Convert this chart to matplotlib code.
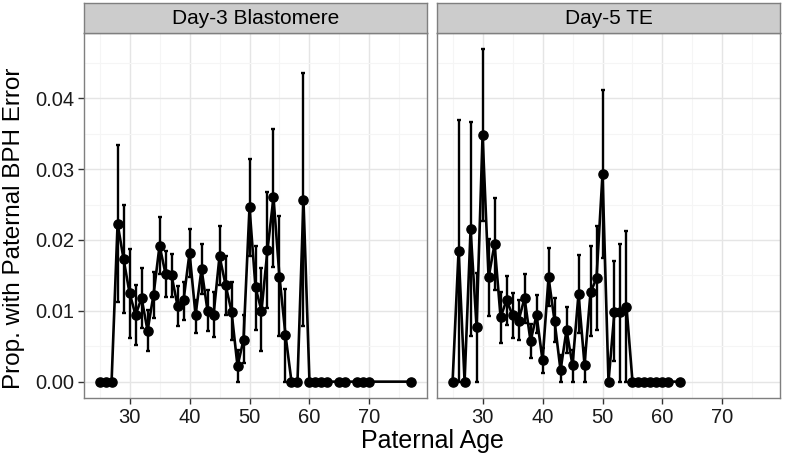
import matplotlib
matplotlib.use("Agg")
import matplotlib.pyplot as plt
import numpy as np

plt.rcParams['font.family'] = ['Liberation Sans', 'DejaVu Sans']

# Day-3 blastomere
age3 = [25, 26, 27, 28, 29, 30, 31, 32, 33, 34, 35, 36, 37, 38, 39, 40, 41, 42, 43, 44,
        45, 46, 47, 48, 49, 50, 51, 52, 53, 54, 55, 56, 57, 58, 59, 60, 61, 62, 63,
        65, 66, 68, 69, 70, 77]
prop3 = [0, 0, 0, 0.0223, 0.0173, 0.0125, 0.0094, 0.0118, 0.0072, 0.0123, 0.0192, 0.0152,
         0.0150, 0.0107, 0.0115, 0.0182, 0.0094, 0.0159, 0.0100, 0.0094, 0.0177, 0.0137,
         0.0099, 0.0022, 0.0059, 0.0246, 0.0133, 0.0100, 0.0186, 0.0260, 0.0148, 0.0066,
         0, 0, 0.0256, 0, 0, 0, 0, 0, 0, 0, 0, 0, 0]
lo3 = [0, 0, 0, 0.0113, 0.0097, 0.0062, 0.0052, 0.0076, 0.0043, 0.0090, 0.0152, 0.0120,
       0.0120, 0.0079, 0.0087, 0.0148, 0.0069, 0.0124, 0.0071, 0.0063, 0.0137, 0.0094,
       0.0059, 0.0, 0.0026, 0.0177, 0.0073, 0.0043, 0.0104, 0.0162, 0.0064, 0.0,
       0, 0, 0.0078, 0, 0, 0, 0, 0, 0, 0, 0, 0, 0]
hi3 = [0, 0, 0, 0.0334, 0.0250, 0.0187, 0.0137, 0.0160, 0.0101, 0.0155, 0.0233, 0.0184,
       0.0180, 0.0135, 0.0141, 0.0216, 0.0115, 0.0194, 0.0130, 0.0126, 0.0219, 0.0177,
       0.0140, 0.0045, 0.0094, 0.0314, 0.0192, 0.0160, 0.0268, 0.0357, 0.0234, 0.0131,
       0, 0, 0.0436, 0, 0, 0, 0, 0, 0, 0, 0, 0, 0]

# Day-5 trophectoderm
age5 = [25, 26, 27, 28, 29, 30, 31, 32, 33, 34, 35, 36, 37, 38, 39, 40, 41, 42, 43, 44,
        45, 46, 47, 48, 49, 50, 51, 52, 53, 54, 55, 56, 57, 58, 59, 60, 61, 63]
prop5 = [0, 0.0185, 0, 0.0215, 0.0077, 0.0348, 0.0147, 0.0194, 0.0091, 0.0115, 0.0094,
         0.0086, 0.0118, 0.0057, 0.0094, 0.0030, 0.0147, 0.0086, 0.0016, 0.0073, 0.0023,
         0.0124, 0.0024, 0.0126, 0.0146, 0.0293, 0, 0.0099, 0.0098, 0.0106,
         0, 0, 0, 0, 0, 0, 0, 0]
lo5 = [0, 0, 0, 0.0065, 0, 0.0227, 0.0092, 0.0130, 0.0054, 0.0080, 0.0062, 0.0059,
       0.0083, 0.0033, 0.0068, 0.0012, 0.0107, 0.0056, 0, 0.0040, 0, 0.0069, 0, 0.0064,
       0.0073, 0.0174, 0, 0.0029, 0, 0, 0, 0, 0, 0, 0, 0, 0, 0]
hi5 = [0, 0.0369, 0, 0.0366, 0.0153, 0.0469, 0.0202, 0.0259, 0.0127, 0.0149, 0.0125,
       0.0115, 0.0152, 0.0082, 0.0122, 0.0047, 0.0188, 0.0118, 0.0038, 0.0106, 0.0045,
       0.0179, 0.0047, 0.0191, 0.0220, 0.0411, 0, 0.0170, 0.0194, 0.0213,
       0, 0, 0, 0, 0, 0, 0, 0]

panels = [("Day-3 Blastomere", age3, prop3, lo3, hi3),
          ("Day-5 TE", age5, prop5, lo5, hi5)]

W, H = 785, 463
fig = plt.figure(figsize=(W / 100, H / 100), dpi=100)

lefts = [84, 437]
pw = 343
top_px, bot_px = 32.7, 398.3
strip_top = 3.3

for i, (title, a, p, lo, hi) in enumerate(panels):
    ax = fig.add_axes([lefts[i] / W, 1 - bot_px / H, pw / W, (bot_px - top_px) / H])
    a = np.array(a); p = np.array(p)
    yerr = [p - np.array(lo), np.array(hi) - p]
    ax.errorbar(a, p, yerr=yerr, fmt='none', ecolor='black', elinewidth=1.7,
                capsize=1.2, capthick=1.7, zorder=3)
    ax.plot(a, p, color='black', lw=1.9, zorder=4)
    ax.plot(a, p, 'o', color='black', ms=6.6, zorder=5)

    ax.set_xlim(22.4, 79.6)
    ax.set_ylim(-0.00235, 0.04925)
    ax.set_xticks([30, 40, 50, 60, 70])
    ax.set_xticks([25, 35, 45, 55, 65, 75], minor=True)
    ax.set_yticks([0, 0.01, 0.02, 0.03, 0.04])
    ax.set_yticks([0.005, 0.015, 0.025, 0.035, 0.045], minor=True)
    ax.grid(which='major', color='#E5E5E5', lw=1.0)
    ax.grid(which='minor', color='#F5F5F5', lw=0.8)
    ax.set_axisbelow(True)
    for s in ax.spines.values():
        s.set_color('#7F7F7F')
        s.set_linewidth(1.0)
    ax.tick_params(which='minor', length=0)
    ax.tick_params(which='major', length=4, width=1.0, color='#333333',
                   labelsize=14.5, labelcolor='#1a1a1a', pad=3)
    if i == 0:
        ax.set_yticklabels(['0.00', '0.01', '0.02', '0.03', '0.04'])
    else:
        ax.tick_params(axis='y', length=0, labelleft=False)

    sax = fig.add_axes([lefts[i] / W, 1 - top_px / H, pw / W, (top_px - strip_top) / H])
    sax.set_facecolor('#CCCCCC')
    sax.set_xticks([]); sax.set_yticks([])
    for s in sax.spines.values():
        s.set_color('#7F7F7F')
        s.set_linewidth(1.0)
    sax.text(0.5, 0.47, title, ha='center', va='center', fontsize=15,
             transform=sax.transAxes)

fig.text((84 + 780) / 2 / W, 1 - 441 / H, "Paternal Age", ha='center', va='center',
         fontsize=18)
fig.text(14 / W, 1 - 228 / H, "Prop. with Paternal BPH Error", ha='center',
         va='center', rotation=90, fontsize=17.5)

fig.savefig("out.png", dpi=100)
